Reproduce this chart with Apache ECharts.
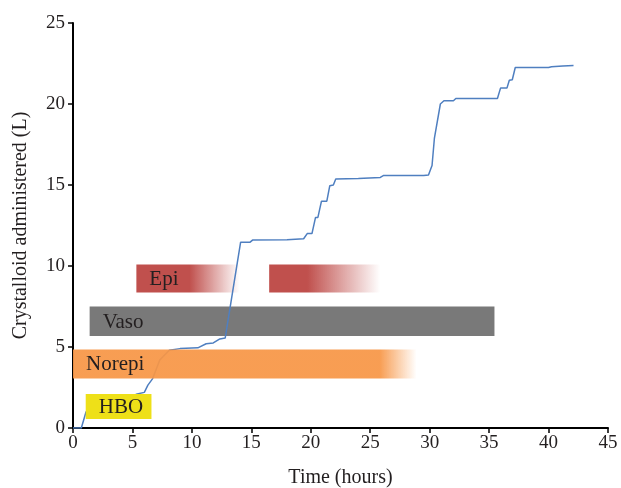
<!DOCTYPE html>
<html>
<head>
    <meta charset="utf-8">
    <title>crystalloid</title>
    <script src="https://cdn.jsdelivr.net/npm/echarts@6/dist/echarts.min.js"></script>
    <style>
        body { margin: 0; background: #fff; }
    </style>
</head>
<body>
<div id="main" style="width: 621px;height:488px;"></div>

<script type="text/javascript">
    // cumulative crystalloid (L) against time (hours)
    var timeHours = [0, 0.7, 1.1, 1.6, 2.5, 5.4, 6.0, 6.3, 6.7, 7.3, 8.1, 9.0, 10.5, 11.2, 11.8, 12.35, 12.8,
        13.76, 14.1, 14.9, 15.1, 18.0, 19.4, 19.7, 20.1, 20.4, 20.6, 20.9, 21.35, 21.6, 21.9, 22.1, 24.0, 25.85, 26.1,
        29.5, 29.9, 30.2, 30.4, 30.9, 31.2, 32.0, 32.2, 35.7, 35.96, 36.5, 36.7, 36.95, 37.2, 40.0, 40.25, 41.2, 42.1];
    var volumeL = [0, 0, 1.0, 1.0, 1.2, 2.1, 2.2, 2.65, 3.05, 4.2, 4.8, 4.9, 4.95, 5.2, 5.25, 5.5, 5.55,
        9.93, 11.47, 11.47, 11.6, 11.62, 11.68, 12.0, 12.0, 13.0, 13.0, 14.0, 14.0, 14.96, 15.0, 15.37, 15.4, 15.47, 15.58,
        15.58, 15.62, 16.2, 17.9, 20.0, 20.2, 20.2, 20.34, 20.34, 20.98, 20.98, 21.47, 21.5, 22.25, 22.25, 22.3, 22.35, 22.37];

    // drug / therapy periods
    var drugNames = ['HBO', 'Norepi', 'Vaso', 'Epi', 'Epi'];
    var drugStart = [1.07, 0, 1.4, 5.33, 16.5];
    var drugSolidEnd = [6.6, 25.8, 35.45, 9.8, 19.7];
    var drugEnd = [6.6, 28.9, 35.45, 14.0, 25.85];
    var drugLow = [0.55, 3.06, 5.68, 8.36, 8.36];
    var drugHigh = [2.1, 4.85, 7.5, 10.1, 10.1];
    var drugLabel = [true, true, true, true, false];
    var drugColor = ['#EEE018', '#F79646', '#797979', '#C0504D', '#C0504D'];

    var xTicks = [0, 45, 5];
    var yTicks = [0, 25, 5];

    var font = 'Liberation Serif';
    var lineData = timeHours.map(function (t, i) { return [t, volumeL[i]]; });
    var drugData = drugNames.map(function (n, i) {
        return [drugStart[i], drugSolidEnd[i], drugEnd[i], drugLow[i], drugHigh[i], i];
    });

    function hexToRgba(hex, a) {
        var r = parseInt(hex.slice(1, 3), 16), g = parseInt(hex.slice(3, 5), 16), b = parseInt(hex.slice(5, 7), 16);
        return 'rgba(' + r + ',' + g + ',' + b + ',' + a + ')';
    }

    function renderDrug(params, api) {
        var i = api.value(5);
        var p0 = api.coord([api.value(0), api.value(4)]);
        var p1 = api.coord([api.value(2), api.value(3)]);
        var pSolid = api.coord([api.value(1), api.value(3)]);
        var w = p1[0] - p0[0], h = p1[1] - p0[1];
        var frac = w > 0 ? (pSolid[0] - p0[0]) / w : 1;
        var col = drugColor[i];
        var fill = frac >= 1 ? col : new echarts.graphic.LinearGradient(0, 0, 1, 0, [
            {offset: 0, color: col},
            {offset: frac, color: col},
            {offset: 1, color: hexToRgba(col, 0)}
        ]);
        var children = [{
            type: 'rect',
            shape: {x: p0[0], y: p0[1], width: w, height: h},
            style: {fill: fill, opacity: i === 1 ? 0.93 : 1}
        }];
        if (drugLabel[i]) {
            children.push({
                type: 'text',
                style: {
                    x: p0[0] + 13, y: p0[1] + h / 2 + 1,
                    text: drugNames[i], fill: '#231f20',
                    font: '21px "' + font + '"',
                    verticalAlign: 'middle'
                }
            });
        }
        return {type: 'group', children: children};
    }

    var myChart = echarts.init(document.getElementById('main'));

    option = {
        animation: false,
        textStyle: {fontFamily: font},
        grid: {left: 73, right: 13, top: 23, bottom: 60, outerBoundsMode: 'none', containLabel: false},
        xAxis: {
            type: 'value',
            min: xTicks[0], max: xTicks[1], interval: xTicks[2],
            name: 'Time (hours)',
            nameLocation: 'middle',
            nameGap: 40,
            nameTextStyle: {fontSize: 20, color: '#231f20', fontFamily: font},
            axisLine: {lineStyle: {color: '#000', width: 2}},
            axisTick: {show: true, length: 5, lineStyle: {color: '#000', width: 1.5}},
            axisLabel: {fontSize: 19, color: '#231f20', fontFamily: font, margin: 6},
            splitLine: {show: false}
        },
        yAxis: {
            type: 'value',
            min: yTicks[0], max: yTicks[1], interval: yTicks[2],
            name: 'Crystalloid administered (L)',
            nameLocation: 'middle',
            nameGap: 42,
            nameTextStyle: {fontSize: 20, color: '#231f20', fontFamily: font},
            axisLine: {show: true, lineStyle: {color: '#000', width: 2}},
            axisTick: {show: true, length: 5, lineStyle: {color: '#000', width: 1.5}},
            axisLabel: {fontSize: 19, color: '#231f20', fontFamily: font, margin: 8},
            splitLine: {show: false}
        },
        series: [
            {
                type: 'custom',
                renderItem: renderDrug,
                data: drugData.filter(function (d) { return d[5] >= 2; }),
                z: 1,
                silent: true
            },
            {
                type: 'line',
                data: lineData,
                showSymbol: false,
                lineStyle: {color: '#4F7FC0', width: 1.5},
                z: 2,
                silent: true
            },
            {
                type: 'custom',
                renderItem: renderDrug,
                data: drugData.filter(function (d) { return d[5] < 2; }),
                z: 3,
                silent: true
            }
        ]
    };

    myChart.setOption(option);
</script>
</body>
</html>
